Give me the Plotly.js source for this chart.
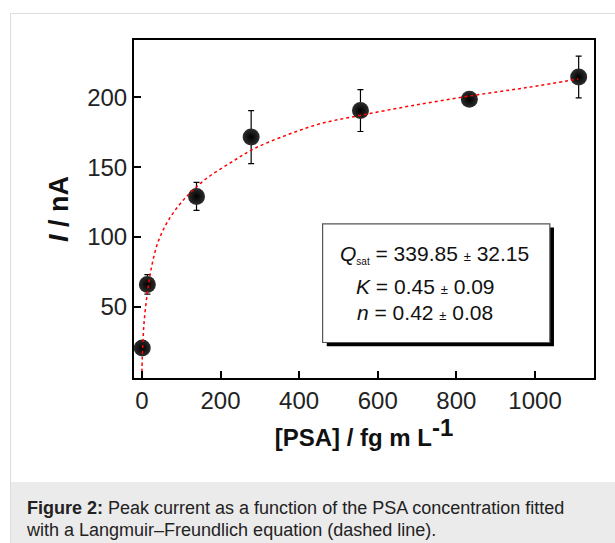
<!DOCTYPE html>
<html>
<head>
<meta charset="utf-8">
<script src="https://cdn.plot.ly/plotly-3.0.1.min.js"></script>
<style>
  html, body { margin: 0; padding: 0; background: #ffffff; width: 615px; height: 543px; overflow: hidden; }
  #panel { position: absolute; left: 10px; top: 13px; width: 640px; height: 560px; border: 1px solid #dedede; background: #ffffff; box-sizing: border-box; }
  #caption { position: absolute; left: 11px; top: 482px; width: 640px; height: 80px; background: #ebebeb;
             font-family: Arial, "Liberation Sans", sans-serif; font-size: 18px; color: #222; line-height: 22px;
             padding: 15px 0 0 16px; box-sizing: border-box; white-space: nowrap; }
  #chart { position: absolute; left: 0; top: 0; width: 615px; height: 543px; }
</style>
</head>
<body>
<div id="panel"></div>
<div id="caption"><b>Figure 2:</b> Peak current as a function of the PSA concentration fitted<br>with a Langmuir–Freundlich equation (dashed line).</div>
<div id="chart"></div>
<script>
// Measured data (PSA concentration in fg/mL, peak current in nA)
const concentration = [1, 14, 139, 278, 556, 833, 1111];
const current = [20.5, 66, 129, 171.5, 190.5, 198.5, 214.5];
const currentError = [3, 7, 10, 19, 15, 4, 15];

// Langmuir–Freundlich fit curve
const fitConcentration = [0, 1, 3, 6, 14, 25, 42, 72, 114, 165, 225, 284, 369, 453, 555, 687, 836, 980, 1110];
const fitCurrent = [-1, 14, 26, 40, 60, 79, 97, 114, 129, 142, 153, 163, 173, 181, 187, 194, 201, 207, 213];

// Axis ticks
const xTicks = [0, 200, 400, 600, 800, 1000];
const yTicks = [50, 100, 150, 200];

const FONT = 'Arial, "Liberation Sans", sans-serif';

const traces = [
  {
    x: concentration, y: current, type: 'scatter', mode: 'markers',
    marker: { size: 17, color: '#2e2e2e', gradient: { type: 'radial', color: '#000000' }, line: { width: 0 } },
    error_y: { type: 'data', array: currentError, visible: true, color: '#000000', thickness: 1.2, width: 3 },
    hoverinfo: 'skip'
  },
  {
    x: fitConcentration, y: fitCurrent, type: 'scatter', mode: 'lines',
    line: { color: '#ff0000', width: 1.5, dash: 'dot', shape: 'spline', smoothing: 1 },
    hoverinfo: 'skip'
  }
];

const layout = {
  width: 615, height: 543,
  margin: { l: 134, r: 21, t: 40, b: 165 },
  paper_bgcolor: 'rgba(0,0,0,0)',
  plot_bgcolor: '#ffffff',
  showlegend: false,
  font: { family: FONT, color: '#222222' },
  xaxis: {
    range: [-20, 1150], tickvals: xTicks, ticktext: xTicks.map(String),
    ticks: 'inside', ticklen: 7, tickwidth: 2, tickcolor: '#000',
    showline: true, linewidth: 2, linecolor: '#000', mirror: true,
    showgrid: false, zeroline: false,
    tickfont: { size: 24, family: FONT, color: '#222' },
    title: { text: '<b>[PSA] / fg m L<sup><span style="font-size:24px">-1</span></sup></b>', font: { size: 24, family: FONT, color: '#111' }, standoff: 14 }
  },
  yaxis: {
    range: [-1, 241], tickvals: yTicks, ticktext: yTicks.map(String),
    ticks: 'inside', ticklen: 7, tickwidth: 2, tickcolor: '#000',
    showline: true, linewidth: 2, linecolor: '#000', mirror: true,
    showgrid: false, zeroline: false,
    tickfont: { size: 24, family: FONT, color: '#222' },
    title: { text: '<b><i>I</i> / nA</b>', font: { size: 27, family: FONT, color: '#111' }, standoff: 11 }
  },
  shapes: [
    { type: 'rect', xref: 'paper', yref: 'paper', x0: 0.419, x1: 0.913, y0: 0.094, y1: 0.445,
      fillcolor: '#000', line: { width: 0 }, layer: 'above' },
    { type: 'rect', xref: 'paper', yref: 'paper', x0: 0.410, x1: 0.904, y0: 0.105, y1: 0.456,
      fillcolor: '#fff', line: { width: 1.2, color: '#555' }, layer: 'above' }
  ],
  annotations: [
    { xref: 'paper', yref: 'paper', x: 0.444, y: 0.364, xanchor: 'left', yanchor: 'middle', showarrow: false,
      text: '<i>Q</i><sub><span style="font-size:10px">sat</span></sub> = 339.85 <span style="font-size:13px">±</span> 32.15',
      font: { size: 21, family: FONT, color: '#111' } },
    { xref: 'paper', yref: 'paper', x: 0.478, y: 0.270, xanchor: 'left', yanchor: 'middle', showarrow: false,
      text: '<i>K</i> = 0.45 <span style="font-size:13px">±</span> 0.09',
      font: { size: 21, family: FONT, color: '#111' } },
    { xref: 'paper', yref: 'paper', x: 0.481, y: 0.193, xanchor: 'left', yanchor: 'middle', showarrow: false,
      text: '<i>n</i> = 0.42 <span style="font-size:13px">±</span> 0.08',
      font: { size: 21, family: FONT, color: '#111' } }
  ]
};

Plotly.newPlot('chart', traces, layout, { staticPlot: true, displayModeBar: false });
</script>
</body>
</html>
